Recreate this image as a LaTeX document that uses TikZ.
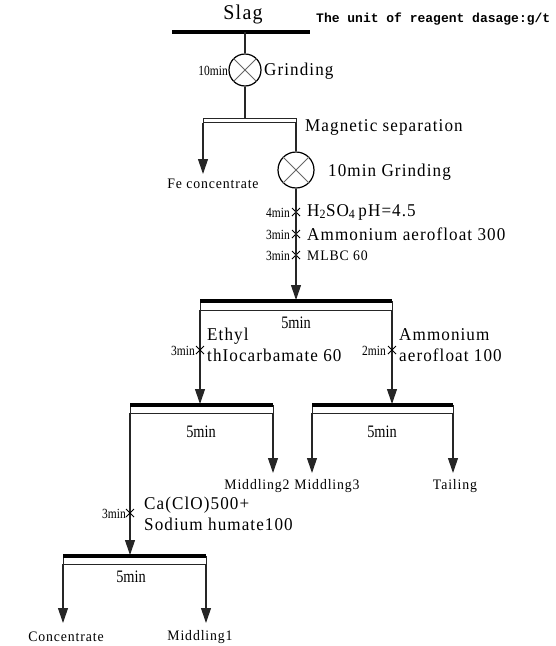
\documentclass[tikz,border=0pt]{standalone}
\usepackage{fontspec}
\setmainfont{Liberation Serif}
\newfontfamily\wsf[FakeStretch=0.95, LetterSpace=6]{Liberation Serif}
\newfontfamily\nsf[FakeStretch=0.82]{Liberation Serif}
\newfontfamily\monof{Liberation Mono}
\usetikzlibrary{arrows.meta,shapes.misc}
\begin{document}
\begin{tikzpicture}[x=1pt,y=-1pt,
  ln/.style={line width=1.1pt, draw=black!85},
  arr/.style={ln, -{Triangle[width=10pt,length=15pt]}},
  tbar/.style={line width=3.6pt, draw=black},
  dbar/.style={line width=1pt, draw=black!85},
  grind/.style={circle, draw, line width=1.2pt, inner sep=0pt},
  xmark/.style={cross out, draw, line width=1pt, minimum size=7pt, inner sep=0pt},
  lab/.style={font=\wsf\fontsize{18}{21}\selectfont, inner sep=0pt, align=left},
  small/.style={font=\wsf\fontsize{14.5}{16}\selectfont, inner sep=0pt},
  minl/.style={font=\nsf\fontsize{14}{16}\selectfont, inner sep=0pt, anchor=east},
  five/.style={font=\nsf\fontsize{17.5}{19}\selectfont, inner sep=0pt}]
\useasboundingbox (0,0) rectangle (555,646);

% Slag
\node[font=\wsf\fontsize{21}{23}\selectfont, inner sep=0pt] (slag) at (243,14) {Slag};
\node[font=\monof\bfseries\fontsize{13}{14}\selectfont, inner sep=0pt, anchor=west] (unit) at (316,19) {The unit of reagent dasage:g/t};
\draw[tbar] (172,32) -- (310,32);
\coordinate (slagout) at (245,32);

% Grinding 1
\node[grind, minimum size=32pt] (g1) at (245,70) {};
\draw[line width=0.8pt, black!60] (g1.north west) -- (g1.south east) (g1.north east) -- (g1.south west);
\node[minl] (g1t) at (228,71) {10min};
\node[lab, anchor=west] (g1l) at (264,71) {Grinding};
\draw[ln] (slagout) -- (g1.north);

% Magnetic separation
\coordinate (ms) at (245,118);
\draw[dbar] (203,118) -- (296,118) (203,122.5) -- (296,122.5) (203,118) -- (203,122.5) (296,118) -- (296,122.5);
\draw[ln] (g1.south) -- (ms);
\node[lab, anchor=west] (msl) at (305,127) {Magnetic separation};
\coordinate (fetop) at (203,122.5);
\coordinate (fe) at (203,174);
\draw[arr] (fetop) -- (fe);
\node[small] (fel) at (213,184) {Fe concentrate};

% Grinding 2
\node[grind, minimum size=36pt] (g2) at (296,170) {};
\draw[line width=0.8pt, black!60] (g2.north west) -- (g2.south east) (g2.north east) -- (g2.south west);
\coordinate (msrt) at (296,122.5);
\draw[ln] (msrt) -- (g2.north);
\node[lab, anchor=west] (g2l) at (328,172) {10min Grinding};

% reagents on line
\node[xmark] (x1) at (296,212) {};
\node[xmark] (x2) at (296,234) {};
\node[xmark] (x3) at (296,255) {};
\node[minl] at (290,213) {4min};
\node[minl] at (290,235) {3min};
\node[minl] at (290,256) {3min};
\node[lab, anchor=west] at (307,212) {H\textsubscript{2}SO\textsubscript{4}\,pH=4.5};
\node[lab, anchor=west] at (307,234) {Ammonium aerofloat 300};
\node[small, anchor=west] at (307,256) {MLBC 60};
\coordinate (b1in) at (296,300);
\draw[arr] (g2.south) -- (b1in);

% Bar 1
\draw[dbar] (200,301) rectangle (392,310);
\draw[tbar] (200,301) -- (392,301);
\node[five] (b1t) at (296,323) {5min};
\coordinate (b1l) at (200,310);
\coordinate (b1r) at (392,310);
\coordinate (b2in) at (200,404);
\coordinate (b3in) at (392,404);
\draw[arr] (b1l) -- (b2in);
\draw[arr] (b1r) -- (b3in);
\node[xmark] (x4) at (200,350) {};
\node[xmark] (x5) at (392,350) {};
\node[minl] at (195,351) {3min};
\node[minl] at (386,351) {2min};
\node[lab, anchor=north west] at (207,328) {Ethyl\\thIocarbamate 60};
\node[lab, anchor=north west] at (399,328) {Ammonium\\aerofloat 100};

% Bar 2 left
\draw[dbar] (130,405) rectangle (273,413);
\draw[tbar] (130,405) -- (273,405);
\node[five] at (201,432) {5min};
% Bar 2 right
\draw[dbar] (312,405) rectangle (453,413);
\draw[tbar] (312,405) -- (453,405);
\node[five] at (382,432) {5min};

\coordinate (b2r) at (273,413);
\coordinate (m2) at (273,473);
\draw[arr] (b2r) -- (m2);
\coordinate (b3l) at (312,413);
\coordinate (m3) at (312,473);
\draw[arr] (b3l) -- (m3);
\coordinate (b3r) at (453,413);
\coordinate (tl) at (453,473);
\draw[arr] (b3r) -- (tl);
\node[small] at (257,486) {Middling2};
\node[small] at (327,486) {Middling3};
\node[small] at (455,486) {Tailing};

% Cleaner
\coordinate (b2l) at (130,413);
\coordinate (b4in) at (130,555);
\draw[arr] (b2l) -- (b4in);
\node[xmark] (x6) at (130,513) {};
\node[minl] at (126,514) {3min};
\node[lab, anchor=north west] at (144,497) {Ca(ClO)500+\\Sodium humate100};

% Bar 3
\draw[dbar] (63,556) rectangle (206,564);
\draw[tbar] (63,556) -- (206,556);
\node[five] at (131,577) {5min};
\coordinate (b4l) at (63,564);
\coordinate (b4r) at (206,564);
\coordinate (c1) at (63,623);
\coordinate (c2) at (206,623);
\draw[arr] (b4l) -- (c1);
\draw[arr] (b4r) -- (c2);
\node[small] at (66,637) {Concentrate};
\node[small] at (200,637) {Middling1};
\end{tikzpicture}
\end{document}
